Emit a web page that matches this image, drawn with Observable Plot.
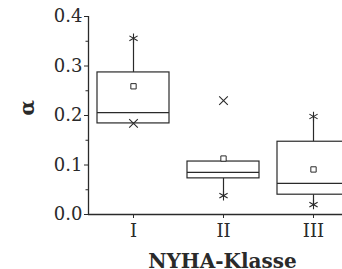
<!DOCTYPE html>
<html><head><meta charset="utf-8">
<script src="https://cdn.jsdelivr.net/npm/d3@7"></script>
<script src="https://cdn.jsdelivr.net/npm/@observablehq/plot@0.6"></script>
<style>html,body{margin:0;padding:0;overflow:hidden;background:#fff;width:342px;height:269px}</style>
</head><body><div id="chart"></div>
<script>
const categories = ["I", "II", "III"];
const q1 = [0.184, 0.073, 0.040];
const median = [0.206, 0.085, 0.063];
const q3 = [0.287, 0.107, 0.147];
const mean = [0.259, 0.113, 0.091];
const whiskerLow = [0.184, 0.038, 0.020];
const whiskerHigh = [0.356, 0.107, 0.198];
const asteriskCat = ["I", "II", "III", "III"];
const asteriskVal = [0.356, 0.038, 0.020, 0.198];
const crossCat = ["I", "II"];
const crossVal = [0.184, 0.230];
const yTicks = [0, 0.1, 0.2, 0.3, 0.4];
const yMinorTicks = [0.05, 0.15, 0.25, 0.35];
const yTitle = "α";
const xTitle = "NYHA-Klasse";

const pos = c => categories.indexOf(c) + 1;
const rows = categories.map((c, i) => ({
  c, p: i + 1, q1: q1[i], med: median[i], q3: q3[i], mean: mean[i],
  lo: whiskerLow[i], hi: whiskerHigh[i]
}));
const stars = asteriskCat.map((c, i) => ({p: pos(c), v: asteriskVal[i]}));
const crosses = crossCat.map((c, i) => ({p: pos(c), v: crossVal[i]}));

const ink = "#2a2a2a";
const font = "'DejaVu Serif', serif";
const half = 0.4;

const chart = Plot.plot({
  width: 342, height: 269,
  marginLeft: 88, marginRight: 0, marginTop: 16, marginBottom: 55,
  style: {fontFamily: font, background: "white", color: ink, overflow: "hidden"},
  x: {domain: [0.5, 3.5], range: [88, 358], axis: null},
  y: {domain: [0, 0.4], axis: null},
  marks: [
    Plot.ruleY([0], {stroke: ink, strokeWidth: 1.3}),
    Plot.ruleX([0.5], {y1: 0, y2: 0.4, stroke: ink, strokeWidth: 1.3}),
    Plot.ruleX(rows, {x: "p", y1: "q3", y2: "hi", stroke: ink, strokeWidth: 1.2}),
    Plot.ruleX(rows, {x: "p", y1: "lo", y2: "q1", stroke: ink, strokeWidth: 1.2}),
    Plot.rect(rows, {x1: d => d.p - half, x2: d => d.p + half, y1: "q1", y2: "q3", fill: "white", stroke: ink, strokeWidth: 1.2}),
    Plot.ruleY(rows, {x1: d => d.p - half, x2: d => d.p + half, y: "med", stroke: ink, strokeWidth: 1.2}),
    Plot.dot(rows, {x: "p", y: "mean", symbol: "square", r: 3, stroke: ink, strokeWidth: 1, fill: "white"}),
    Plot.dot(stars, {x: "p", y: "v", symbol: "asterisk", r: 4.5, stroke: ink, strokeWidth: 1.1}),
    Plot.dot(crosses, {x: "p", y: "v", symbol: "times", r: 4, stroke: ink, strokeWidth: 1.1}),
    Plot.axisY({ticks: yTicks, tickFormat: ".1f", tickSize: 4, tickPadding: 2, fontSize: 18,
      label: null, stroke: ink, fill: ink}),
    Plot.axisY({ticks: yMinorTicks, tickSize: 2.5, tickFormat: () => "", label: null, stroke: ink}),
    Plot.axisX({ticks: [1, 2, 3], tickFormat: i => categories[i - 1], tickSize: 4, tickPadding: 6, fontSize: 18,
      label: null, stroke: ink, fill: ink}),
    Plot.text([yTitle], {frameAnchor: "left", dx: -61, rotate: -90, fontSize: 20, fontWeight: "bold", fill: ink}),
    Plot.text([xTitle], {frameAnchor: "bottom", dx: 7, dy: 53, fontSize: 20, fontWeight: "bold", fill: ink})
  ]
});
document.getElementById("chart").appendChild(chart);
</script>
</body></html>
